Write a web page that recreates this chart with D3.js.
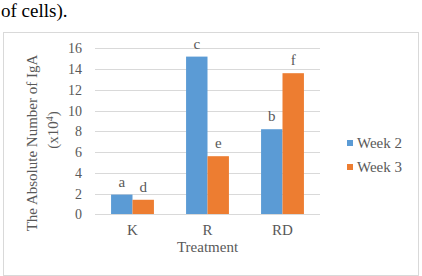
<!DOCTYPE html>
<html>
<head>
<meta charset="utf-8">
<script src="https://cdn.jsdelivr.net/npm/d3@7"></script>
<style>
  body { margin: 0; background: #fff; }
  svg { display: block; }
</style>
</head>
<body>
<div class="chart"></div>
<script>
// data
var treatments = ["K", "R", "RD"];
var seriesNames = ["Week 2", "Week 3"];
var week2 = [1.9, 15.2, 8.2];
var week3 = [1.4, 5.6, 13.6];
var week2Letters = ["a", "c", "b"];
var week3Letters = ["d", "e", "f"];
var yTicks = [0, 2, 4, 6, 8, 10, 12, 14, 16];

var colors = ["#5B9BD5", "#ED7D31"];
var textColor = "#595959";
var serif = "'Liberation Serif', 'Times New Roman', serif";

var width = 422, height = 276;
var plot = {left: 95, right: 320, top: 48.3, bottom: 214.3};

var svg = d3.select(".chart").append("svg")
    .attr("width", width)
    .attr("height", height);

// text above the chart (from the surrounding page)
svg.append("text")
    .attr("x", 1)
    .attr("y", 17)
    .style("font-family", serif)
    .style("font-size", "19px")
    .style("fill", "#000")
    .text("of cells).");

// chart frame
svg.append("rect")
    .attr("x", 3.5)
    .attr("y", 32.5)
    .attr("width", 415)
    .attr("height", 243)
    .style("fill", "#fff")
    .style("stroke", "#d9d9d9")
    .style("stroke-width", 1);

var x = d3.scaleBand()
    .domain(treatments)
    .range([plot.left, plot.right])
    .paddingInner(0)
    .paddingOuter(0);

var xInner = d3.scaleBand()
    .domain(seriesNames)
    .range([0, x.bandwidth()])
    .paddingOuter(0.75)
    .paddingInner(0);

var y = d3.scaleLinear()
    .domain([0, 16])
    .range([plot.bottom, plot.top]);

// gridlines
svg.append("g")
    .selectAll("line")
    .data(yTicks.slice(1))
    .enter().append("line")
    .attr("x1", plot.left)
    .attr("x2", plot.right)
    .attr("y1", function(d) { return Math.round(y(d)) + 0.5; })
    .attr("y2", function(d) { return Math.round(y(d)) + 0.5; })
    .style("stroke", "#d9d9d9")
    .style("stroke-width", 1);

// y tick labels
var yAxis = svg.append("g")
    .attr("transform", "translate(" + plot.left + ",0)")
    .call(d3.axisLeft(y).tickValues(yTicks).tickSize(0).tickPadding(13));
yAxis.select(".domain").remove();
yAxis.selectAll("text")
    .style("font-family", serif)
    .style("font-size", "14px")
    .style("fill", textColor);

// bars
var series = [week2, week3];
var letters = [week2Letters, week3Letters];

var groups = svg.append("g")
    .selectAll("g")
    .data(seriesNames)
    .enter().append("g")
    .style("fill", function(d, i) { return colors[i]; });

groups.selectAll("rect")
    .data(function(s, si) {
        return treatments.map(function(t, ti) {
            return {t: t, s: s, v: series[si][ti], l: letters[si][ti]};
        });
    })
    .enter().append("rect")
    .attr("x", function(d) { return x(d.t) + xInner(d.s); })
    .attr("y", function(d) { return y(d.v); })
    .attr("width", xInner.bandwidth())
    .attr("height", function(d) { return y(0) - y(d.v); });

// significance letters
groups.selectAll("text")
    .data(function(s, si) {
        return treatments.map(function(t, ti) {
            return {t: t, s: s, v: series[si][ti], l: letters[si][ti]};
        });
    })
    .enter().append("text")
    .attr("x", function(d) { return x(d.t) + xInner(d.s) + xInner.bandwidth() / 2; })
    .attr("y", function(d) { return y(d.v) - 8; })
    .attr("text-anchor", "middle")
    .style("font-family", serif)
    .style("font-size", "15px")
    .style("fill", textColor)
    .text(function(d) { return d.l; });

// x axis line
svg.append("line")
    .attr("x1", plot.left)
    .attr("x2", plot.right)
    .attr("y1", Math.round(y(0)) + 0.5)
    .attr("y2", Math.round(y(0)) + 0.5)
    .style("stroke", "#d9d9d9")
    .style("stroke-width", 1);

// x tick labels
var xAxis = svg.append("g")
    .attr("transform", "translate(0," + plot.bottom + ")")
    .call(d3.axisBottom(x).tickSize(0).tickPadding(10));
xAxis.select(".domain").remove();
xAxis.selectAll("text")
    .style("font-family", serif)
    .style("font-size", "15px")
    .style("fill", textColor);

// axis titles
svg.append("text")
    .attr("x", (plot.left + plot.right) / 2)
    .attr("y", 252)
    .attr("text-anchor", "middle")
    .style("font-family", serif)
    .style("font-size", "15px")
    .style("fill", textColor)
    .text("Treatment");

var yTitle = svg.append("text")
    .attr("transform", "translate(37,143) rotate(-90)")
    .attr("text-anchor", "middle")
    .style("font-family", serif)
    .style("font-size", "15px")
    .style("fill", textColor);
yTitle.append("tspan")
    .attr("x", 0)
    .attr("y", 0)
    .text("The Absolute Number of IgA");
var line2 = yTitle.append("tspan")
    .attr("x", 13)
    .attr("y", 21)
    .text("(x10");
line2.append("tspan")
    .attr("dy", -5)
    .style("font-size", "10px")
    .text("4");
line2.append("tspan")
    .attr("dy", 5)
    .text(")");

// legend
var legend = svg.append("g")
    .selectAll("g")
    .data(seriesNames)
    .enter().append("g")
    .attr("transform", function(d, i) { return "translate(347," + (143 + i * 24) + ")"; });

legend.append("rect")
    .attr("x", 0)
    .attr("y", -3)
    .attr("width", 6)
    .attr("height", 6)
    .style("fill", function(d, i) { return colors[i]; });

legend.append("text")
    .attr("x", 10)
    .attr("y", 5)
    .style("font-family", serif)
    .style("font-size", "15px")
    .style("fill", textColor)
    .text(function(d) { return d; });
</script>
</body>
</html>
